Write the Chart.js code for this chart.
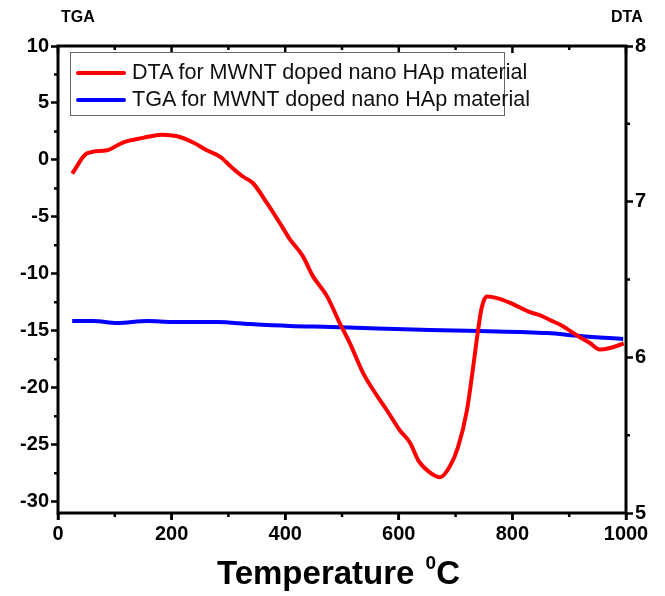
<!DOCTYPE html>
<html>
<head>
<meta charset="utf-8">
<script src="https://cdn.jsdelivr.net/npm/chart.js@4.4.0/dist/chart.umd.min.js"></script>
<style>
  body { margin: 0; background: #fff; }
  #wrap { position: relative; width: 665px; height: 596px; }
  .axlab { position: absolute; top: 8px; font: bold 16px 'Liberation Sans', Arial, sans-serif; color: #000; }
  #xtitle { position: absolute; left: 0; width: 665px; top: 552px; text-align: center; padding-left: 12px; box-sizing: border-box;
            font: bold 33px 'Liberation Sans', Arial, sans-serif; color: #000; }
  #xtitle sup { font-size: 19px; vertical-align: 15px; margin-left: 2px; }
  #legend { position: absolute; left: 70px; top: 52px; width: 435px; height: 64px; border: 1px solid #666; box-sizing: border-box; }
  .item { position: absolute; left: 5px; white-space: nowrap; font: 21.6px 'Liberation Sans', Arial, sans-serif; color: #111; }
  .swatch { display: inline-block; width: 50px; height: 4px; border-radius: 2px; vertical-align: middle; margin-right: 6px; }
</style>
</head>
<body>
<div id="wrap">
  <canvas id="chart" width="665" height="596"></canvas>
  <div class="axlab" style="left:61px">TGA</div>
  <div class="axlab" style="left:611px">DTA</div>
  <div id="legend"></div>
  <div id="xtitle">Temperature <sup>0</sup>C</div>
</div>
<script>
// DTA curve (right axis)
const dtaTemp = [25, 51, 86, 114, 150, 183, 210, 238, 262, 285, 306, 326, 343, 368, 391, 408, 431, 449, 474, 496, 514,
  537, 555, 579, 602, 620, 634, 655, 673, 690, 704, 720, 731, 739, 746, 755, 773, 796, 831, 849, 866, 889, 914, 937,
  954, 972, 989, 996];
const dtaValues = [7.18, 7.31, 7.33, 7.38, 7.41, 7.43, 7.42, 7.38, 7.33, 7.29, 7.22, 7.16, 7.12, 6.99, 6.86, 6.76, 6.65,
  6.52, 6.39, 6.22, 6.09, 5.90, 5.79, 5.66, 5.53, 5.45, 5.34, 5.26, 5.23, 5.30, 5.42, 5.66, 5.94, 6.16, 6.32, 6.39,
  6.38, 6.35, 6.29, 6.27, 6.24, 6.20, 6.14, 6.09, 6.05, 6.06, 6.08, 6.09];

// TGA curve (left axis)
const tgaTemp = [25, 62, 104, 157, 202, 280, 338, 408, 479, 537, 655, 743, 861, 919, 995];
const tgaValues = [-14.15, -14.15, -14.32, -14.15, -14.23, -14.23, -14.41, -14.58, -14.67, -14.76, -14.93, -15.02,
  -15.20, -15.46, -15.72];

const seriesLabels = ['DTA for MWNT doped nano HAp material', 'TGA for MWNT doped nano HAp material'];
const seriesColors = ['#ff0000', '#0000ff'];

const tickFont = { family: "'Liberation Sans', Arial, sans-serif", size: 20, weight: 'bold' };

// legend
const legendEl = document.getElementById('legend');
seriesLabels.forEach((lab, i) => {
  const d = document.createElement('div');
  d.className = 'item';
  d.style.top = (i === 0 ? 6 : 33) + 'px';
  d.innerHTML = '<span class="swatch" style="background:' + seriesColors[i] + '"></span>' + lab;
  legendEl.appendChild(d);
});

// frame, top ticks and minor ticks
const framePlugin = {
  id: 'frame',
  afterDraw(chart) {
    const ctx = chart.ctx;
    const a = chart.chartArea;
    const x = chart.scales.x, y = chart.scales.y, y2 = chart.scales.y2;
    ctx.save();
    ctx.strokeStyle = '#000';
    ctx.lineWidth = 3;
    ctx.strokeRect(a.left, a.top, a.right - a.left, a.bottom - a.top);
    ctx.lineWidth = 2.5;
    ctx.beginPath();
    for (let v = 0; v <= 1000; v += 100) {
      const px = x.getPixelForValue(v);
      const len = v % 200 === 0 ? 7 : 4;
      ctx.moveTo(px, a.bottom); ctx.lineTo(px, a.bottom + len);
      ctx.moveTo(px, a.top); ctx.lineTo(px, a.top + len);
    }
    for (let v = 7.5; v > -31; v -= 5) {
      const py = y.getPixelForValue(v);
      ctx.moveTo(a.left, py); ctx.lineTo(a.left - 4, py);
    }
    for (let v = 5.5; v < 8; v += 1) {
      const py = y2.getPixelForValue(v);
      ctx.moveTo(a.right, py); ctx.lineTo(a.right + 4, py);
    }
    ctx.stroke();
    ctx.restore();
  }
};

const plainLabel = v => String(v);

new Chart(document.getElementById('chart'), {
  type: 'line',
  data: {
    datasets: [
      {
        label: seriesLabels[0],
        data: dtaTemp.map((t, i) => ({ x: t, y: dtaValues[i] })),
        yAxisID: 'y2',
        borderColor: seriesColors[0],
        borderWidth: 4,
        pointRadius: 0,
        cubicInterpolationMode: 'monotone'
      },
      {
        label: seriesLabels[1],
        data: tgaTemp.map((t, i) => ({ x: t, y: tgaValues[i] })),
        yAxisID: 'y',
        borderColor: seriesColors[1],
        borderWidth: 4,
        pointRadius: 0,
        cubicInterpolationMode: 'monotone'
      }
    ]
  },
  options: {
    responsive: false,
    animation: false,
    layout: { padding: { top: 46, right: 0, left: 0, bottom: 0 } },
    plugins: { legend: { display: false }, tooltip: { enabled: false } },
    scales: {
      x: {
        type: 'linear',
        min: 0, max: 1000,
        afterFit: s => { s.height = 83; },
        ticks: { stepSize: 200, includeBounds: false, font: tickFont, color: '#000', padding: 2, maxRotation: 0, callback: plainLabel },
        grid: { display: true, drawOnChartArea: false, drawTicks: true, tickLength: 7, tickWidth: 2.5, color: '#000' },
        border: { display: false }
      },
      y: {
        position: 'left',
        min: -31, max: 10,
        afterFit: s => { s.width = 58; },
        ticks: { stepSize: 5, includeBounds: false, font: tickFont, color: '#000', padding: 2, callback: plainLabel },
        grid: { display: true, drawOnChartArea: false, drawTicks: true, tickLength: 7, tickWidth: 2.5, color: '#000' },
        border: { display: false }
      },
      y2: {
        position: 'right',
        min: 5, max: 8,
        afterFit: s => { s.width = 39; },
        ticks: { stepSize: 1, font: tickFont, color: '#000', padding: 2, callback: plainLabel },
        grid: { display: true, drawOnChartArea: false, drawTicks: true, tickLength: 7, tickWidth: 2.5, color: '#000' },
        border: { display: false }
      }
    }
  },
  plugins: [framePlugin]
});
</script>
</body>
</html>
